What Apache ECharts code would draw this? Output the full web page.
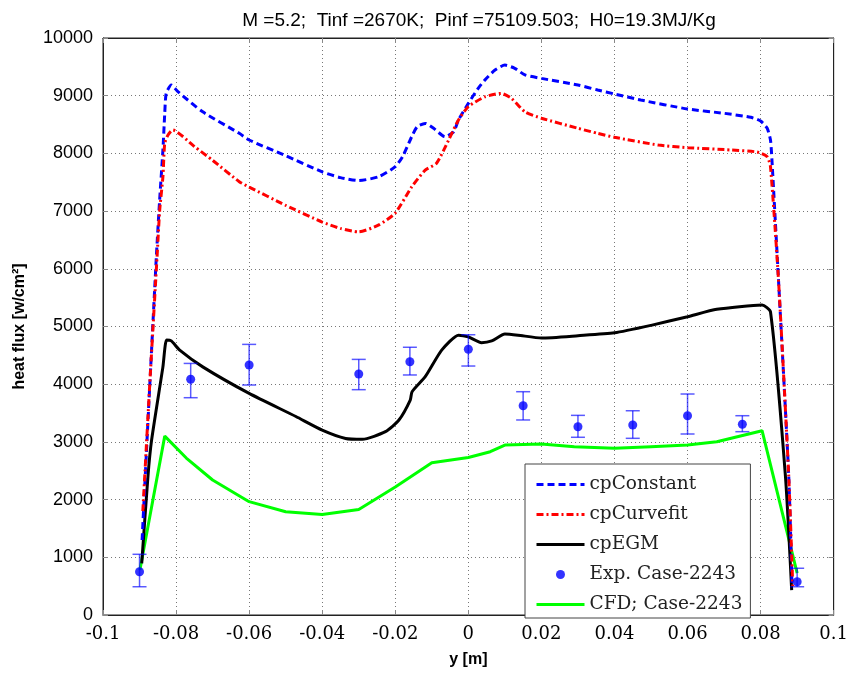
<!DOCTYPE html>
<html>
<head>
<meta charset="utf-8">
<script src="https://cdn.jsdelivr.net/npm/echarts@6/dist/echarts.min.js"></script>
<style>
html,body{margin:0;padding:0;background:#fff;}
#chart{width:851px;height:674px;}
</style>
</head>
<body>
<div id="chart"></div>
<script>
const titleText = 'M =5.2;  Tinf =2670K;  Pinf =75109.503;  H0=19.3MJ/Kg';
const seriesNames = ['cpConstant', 'cpCurvefit', 'cpEGM', 'Exp. Case-2243', 'CFD; Case-2243'];

const cpConstant = [
  [-0.0893,1300],[-0.0875,3600],[-0.0854,6210],[-0.0845,7190],[-0.0836,8060],[-0.0831,8695],
  [-0.0827,9040],[-0.0813,9185],[-0.0795,9070],[-0.0727,8720],[-0.0627,8348],[-0.06,8232],
  [-0.05,7960],[-0.04,7680],[-0.035,7580],[-0.03,7530],[-0.0245,7596],[-0.02,7770],
  [-0.018,7943],[-0.0155,8290],[-0.014,8463],[-0.0118,8520],[-0.0095,8435],[-0.0064,8290],
  [-0.004,8376],[-0.0027,8580],[0,8867],[0.0027,9128],[0.0045,9270],[0.0073,9445],
  [0.010,9530],[0.0127,9475],[0.0155,9360],[0.02,9300],[0.03,9185],[0.0354,9099],
  [0.04,9030],[0.0472,8925],[0.06,8770],[0.07,8695],[0.0773,8625],[0.080,8560],
  [0.0818,8435],[0.0827,8232],[0.0831,7885],[0.0849,5800],[0.0877,2400],[0.0886,490]
];
const cpCurvefit = [
  [-0.0891,1800],[-0.0872,4000],[-0.0852,6210],[-0.0845,7000],[-0.0836,7597],[-0.0831,8175],
  [-0.0822,8320],[-0.0809,8405],[-0.075,8120],[-0.07,7880],[-0.0627,7510],[-0.06,7417],
  [-0.05,7100],[-0.04,6810],[-0.035,6700],[-0.03,6640],[-0.0245,6760],[-0.02,6967],
  [-0.0155,7420],[-0.0118,7710],[-0.0087,7830],[-0.0054,8230],[-0.0027,8580],[0,8810],
  [0.0045,8980],[0.009,9040],[0.0118,8955],[0.0155,8720],[0.02,8610],[0.03,8435],
  [0.0354,8348],[0.04,8279],[0.052,8145],[0.06,8099],[0.072,8059],[0.079,8024],
  [0.0818,7943],[0.0827,7770],[0.0849,5800],[0.0877,2400],[0.0888,500]
];
const cpEGM = [
  [-0.0894,895],[-0.0877,2400],[-0.0867,3030],[-0.0836,4300],[-0.0826,4766],[-0.0813,4750],
  [-0.079,4590],[-0.0727,4300],[-0.06,3840],[-0.0472,3440],[-0.04,3205],[-0.0336,3060],
  [-0.029,3045],[-0.0227,3177],[-0.019,3380],[-0.0159,3726],[-0.0154,3870],[-0.0118,4130],
  [-0.0073,4590],[-0.0027,4850],[0,4820],[0.0036,4720],[0.0064,4750],[0.010,4870],
  [0.0136,4850],[0.02,4800],[0.03,4840],[0.04,4890],[0.05,5020],[0.06,5170],
  [0.068,5298],[0.0804,5372],[0.0827,5256],[0.0868,2397],[0.0885,430]
];
const cfd = [
  [-0.0899,780],[-0.0831,3100],[-0.0772,2720],[-0.07,2340],[-0.06,1964],[-0.05,1790],
  [-0.04,1740],[-0.03,1830],[-0.02,2220],[-0.01,2640],[0,2730],[0.006,2830],
  [0.010,2946],[0.02,2963],[0.029,2917],[0.04,2889],[0.05,2917],[0.06,2946],
  [0.068,3003],[0.0804,3194],[0.09,727]
];
const expX    = [-0.09, -0.076, -0.06, -0.03, -0.016, 0, 0.015, 0.03, 0.045, 0.06, 0.075, 0.09];
const expY    = [750, 4085, 4333, 4176, 4390, 4605, 3627, 3263, 3293, 3454, 3305, 577];
const expLow  = [490, 3766, 3986, 3905, 4160, 4315, 3380, 3080, 3062, 3137, 3177, 490];
const expHigh = [1052, 4360, 4690, 4430, 4640, 4857, 3870, 3460, 3540, 3830, 3454, 810];

const expPoints = expX.map((x, i) => [x, expY[i]]);
const expBars = expX.map((x, i) => [x, expLow[i], expHigh[i]]);

const chart = echarts.init(document.getElementById('chart'), null, {renderer: 'canvas'});

const gridLine = {show: true, lineStyle: {color: '#777', type: [1, 3], width: 1}};
const tickIn = {show: true, inside: true, length: 5, lineStyle: {color: '#888'}};
const hideSym = {opacity: 0};

const option = {
  backgroundColor: '#fff',
  animation: false,
  title: {
    text: titleText,
    left: 474, top: 6, textAlign: 'center',
    textStyle: {fontFamily: 'Liberation Sans', fontSize: 19, fontWeight: 'normal', color: '#000'}
  },
  grid: {left: 103, right: 14, top: 38, bottom: 59, show: true, borderColor: '#222', borderWidth: 1, backgroundColor: 'transparent'},
  legend: {
    orient: 'vertical', left: 525, top: 464,
    data: [
      {name: 'cpConstant', itemStyle: hideSym},
      {name: 'cpCurvefit', itemStyle: hideSym},
      {name: 'cpEGM', itemStyle: hideSym},
      {name: 'Exp. Case-2243'},
      {name: 'CFD; Case-2243', itemStyle: hideSym}
    ],
    itemWidth: 48, itemHeight: 9, itemGap: 11,
    padding: [11, 8, 4, 10],
    backgroundColor: '#fff', borderColor: '#444', borderWidth: 1,
    textStyle: {fontFamily: 'DejaVu Serif', fontSize: 18.5, color: '#222'},
    lineStyle: {width: 'inherit'}
  },
  xAxis: [{
    type: 'value', min: -0.1, max: 0.1, interval: 0.02,
    name: 'y [m]', nameLocation: 'middle', nameGap: 37,
    nameTextStyle: {fontFamily: 'Liberation Sans', fontSize: 16, fontWeight: 'bold', color: '#000'},
    axisLine: {show: true, onZero: false, lineStyle: {color: '#222', width: 1}},
    axisTick: tickIn,
    axisLabel: {margin: 10, fontFamily: 'DejaVu Serif', fontSize: 18, color: '#000',
      formatter: v => String(parseFloat(v.toFixed(4)))},
    splitLine: gridLine
  }, {
    type: 'value', position: 'top', min: -0.1, max: 0.1, interval: 0.02,
    axisLine: {show: true, onZero: false, lineStyle: {color: '#222'}}, axisTick: tickIn,
    axisLabel: {show: false}, splitLine: {show: false}
  }],
  yAxis: [{
    type: 'value', min: 0, max: 10000, interval: 1000,
    name: 'heat flux [w/cm²]', nameLocation: 'middle', nameGap: 75,
    nameTextStyle: {fontFamily: 'Liberation Sans', fontSize: 16, fontWeight: 'bold', color: '#000'},
    axisLine: {show: true, onZero: false, lineStyle: {color: '#222', width: 1}},
    axisTick: tickIn,
    axisLabel: {margin: 10, fontFamily: 'Liberation Sans', fontSize: 18, color: '#000',
      formatter: v => String(v)},
    splitLine: gridLine
  }, {
    type: 'value', position: 'right', min: 0, max: 10000, interval: 1000,
    axisLine: {show: true, onZero: false, lineStyle: {color: '#222'}}, axisTick: tickIn,
    axisLabel: {show: false}, splitLine: {show: false}
  }],
  series: [
    {name: 'cpConstant', type: 'line', data: cpConstant, symbol: 'none', smooth: 0.2, z: 4,
      lineStyle: {color: '#0000ff', width: 3, type: [7, 4]}, itemStyle: {color: '#0000ff'}},
    {name: 'cpCurvefit', type: 'line', data: cpCurvefit, symbol: 'none', smooth: 0.2, z: 5,
      lineStyle: {color: '#ff0000', width: 3, type: [7, 3, 2, 3]}, itemStyle: {color: '#ff0000'}},
    {name: 'cpEGM', type: 'line', data: cpEGM, symbol: 'none', smooth: 0.2, z: 3,
      lineStyle: {color: '#000000', width: 3}, itemStyle: {color: '#000'}},
    {type: 'custom', z: 6, silent: true, data: expBars,
      renderItem: (params, api) => {
        const x = api.value(0);
        const lo = api.coord([x, api.value(1)]);
        const hi = api.coord([x, api.value(2)]);
        const w = 7;
        const st = {stroke: 'rgba(0,0,255,0.65)', lineWidth: 1.5};
        return {type: 'group', children: [
          {type: 'line', shape: {x1: lo[0], y1: lo[1], x2: hi[0], y2: hi[1]}, style: st},
          {type: 'line', shape: {x1: lo[0]-w, y1: lo[1], x2: lo[0]+w, y2: lo[1]}, style: st},
          {type: 'line', shape: {x1: hi[0]-w, y1: hi[1], x2: hi[0]+w, y2: hi[1]}, style: st}
        ]};
      }},
    {name: 'Exp. Case-2243', type: 'scatter', data: expPoints, symbol: 'circle', symbolSize: 9, z: 7,
      itemStyle: {color: '#0000ff'}},
    {name: 'CFD; Case-2243', type: 'line', data: cfd, symbol: 'none', z: 2,
      lineStyle: {color: '#00ff00', width: 3}, itemStyle: {color: '#00ff00'}}
  ]
};
chart.setOption(option);
</script>
</body>
</html>
